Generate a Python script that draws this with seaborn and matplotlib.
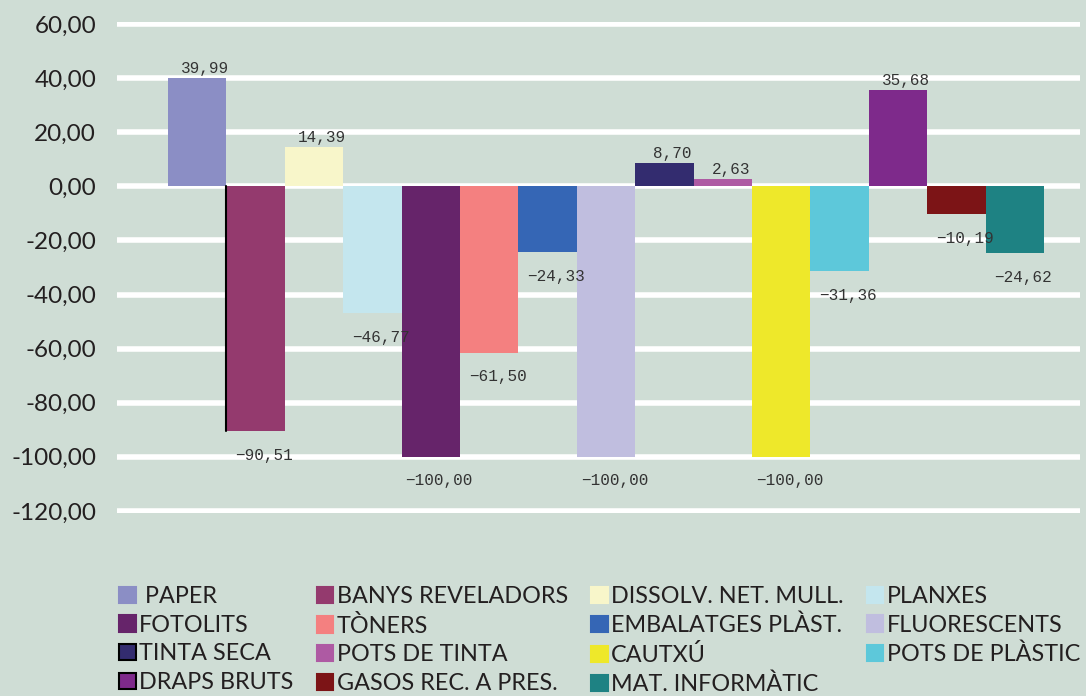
import matplotlib
matplotlib.use("Agg")
import matplotlib.pyplot as plt
from matplotlib.patches import Patch
import pandas as pd
import seaborn as sns

categories = ["PAPER", "BANYS REVELADORS", "DISSOLV. NET. MULL.", "PLANXES",
              "FOTOLITS", "TÒNERS", "EMBALATGES PLÀST.", "FLUORESCENTS",
              "TINTA SECA", "POTS DE TINTA", "CAUTXÚ", "POTS DE PLÀSTIC",
              "DRAPS BRUTS", "GASOS REC. A PRES.", "MAT. INFORMÀTIC"]
values = [39.99, -90.51, 14.39, -46.77, -100.00, -61.50, -24.33, -100.00,
          8.70, 2.63, -100.00, -31.36, 35.68, -10.19, -24.62]
colors = ["#8B8EC5", "#943A6E", "#F8F6CA", "#C4E6EE", "#66246A", "#F48080",
          "#3566B5", "#C0BEDF", "#332C6F", "#AE5AA3", "#EEE82A", "#5DC8DA",
          "#7E2A8B", "#7C1416", "#1E8283"]
yticks = [60, 40, 20, 0, -20, -40, -60, -80, -100, -120]

BG = "#CFDDD5"
df = pd.DataFrame({"cat": categories, "val": values})

sns.set_theme(style="white")
plt.rcParams["font.family"] = ["Lato", "DejaVu Sans"]

fig = plt.figure(figsize=(10.86, 6.96), dpi=100, facecolor=BG)
ax = fig.add_axes([0.1077, 0.2629, 0.8868, 0.7055])
ax.set_facecolor(BG)

sns.barplot(data=df, x="cat", y="val", hue="cat", palette=colors,
            width=1.0, saturation=1, legend=False, ax=ax, zorder=3,
            linewidth=0, edgecolor="none")

for y in yticks:
    ax.axhline(y, color="white", lw=4, zorder=1)

ax.set_xlim(-1.373, 15.116)
ax.set_ylim(-120.8, 60.8)
ax.set_yticks(yticks)
ax.set_yticklabels([f"{v:.2f}".replace(".", ",") for v in yticks],
                   fontsize=17.5, color="#231F20")
ax.tick_params(axis="y", length=0, pad=15)
ax.set_xticks([])
ax.set_xlabel("")
ax.set_ylabel("")
for s in ax.spines.values():
    s.set_visible(False)

# value labels
for bar, v in zip(ax.patches, values):
    cx = bar.get_x() + bar.get_width() / 2
    txt = f"{v:.2f}".replace(".", ",").replace("-", "\u2212")
    if v >= 0:
        ax.annotate(txt, (cx, v), xytext=(6, 1.5), textcoords="offset points",
                    ha="center", va="bottom", fontsize=11.5,
                    family="Liberation Mono", color="#333333", zorder=4)
    else:
        ax.annotate(txt, (cx, v), xytext=(6, -12), textcoords="offset points",
                    ha="center", va="top", fontsize=11.5,
                    family="Liberation Mono", color="#333333", zorder=4)

# thin dark edge on the left side of the second bar
b = ax.patches[1]
ax.plot([b.get_x(), b.get_x()], [0, values[1]], color="black", lw=1.5, zorder=4)

handles = []
for c, col in zip(categories, colors):
    edge = "black" if c in ("TINTA SECA", "DRAPS BRUTS") else col
    handles.append(Patch(facecolor=col, edgecolor=edge, lw=1.5, label=c))
order = [0, 4, 8, 12, 1, 5, 9, 13, 2, 6, 10, 14, 3, 7, 11]
handles = [handles[i] for i in order]
labels = [h.get_label() for h in handles]
labels = [" PAPER" if l == "PAPER" else l for l in labels]
fig.legend(handles, labels, loc="upper left", bbox_to_anchor=(0.110, 0.158),
           ncol=4, frameon=False, fontsize=16.8, handlelength=0.7,
           handleheight=0.7, handletextpad=0.15, columnspacing=1.0,
           labelspacing=0.33, borderaxespad=0, borderpad=0,
           labelcolor="#231F20")

fig.savefig("out.png", dpi=100, facecolor=BG)
